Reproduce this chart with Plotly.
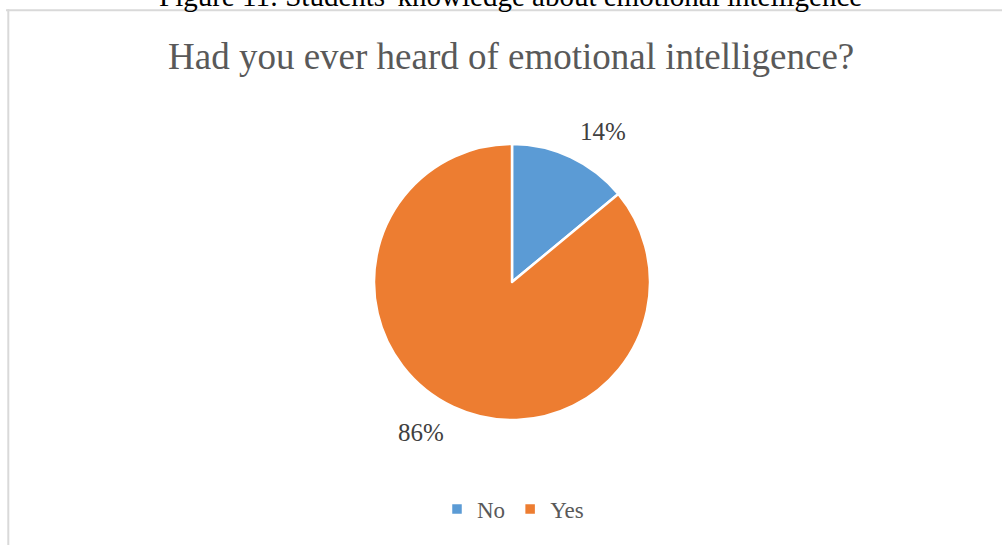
import math
import plotly.graph_objects as go

labels = ["No", "Yes"]
values = [14, 86]
colors = ["#5B9BD5", "#ED7D31"]

W, H = 1002, 545
serif = "Liberation Serif, Times New Roman, serif"

# pie geometry (pixels)
cx, cy, r = 512, 282, 138
label_r = 176
label_shift_deg = 6

fig = go.Figure(go.Pie(
    labels=labels,
    values=values,
    sort=False,
    direction="clockwise",
    rotation=0,
    marker=dict(colors=colors, line=dict(color="white", width=2.5)),
    textinfo="none",
    domain=dict(x=[(cx - r) / W, (cx + r) / W], y=[1 - (cy + r) / H, 1 - (cy - r) / H]),
    hoverinfo="label+percent",
))

# outside percentage labels derived from the data
total = sum(values)
annotations = []
cum = 0
for v in values:
    mid = (cum + v / 2) / total * 360 + label_shift_deg
    cum += v
    ang = math.radians(mid)
    px = cx + label_r * math.sin(ang)
    py = cy - label_r * math.cos(ang)
    annotations.append(dict(
        text=f"{round(v / total * 100)}%", xref="paper", yref="paper",
        x=px / W, y=1 - py / H, xanchor="center", yanchor="middle", showarrow=False,
        font=dict(family=serif, size=25, color="#404040"),
    ))

annotations += [
    dict(text="Had you ever heard of emotional intelligence?", xref="paper", yref="paper",
         x=511 / W, y=1 - 56 / H, xanchor="center", yanchor="middle", showarrow=False,
         font=dict(family=serif, size=37, color="#595959")),
    dict(text="Figure 11: Students' knowledge about emotional intelligence", xref="paper", yref="paper",
         x=510 / W, y=1 + 4.5 / H, xanchor="center", yanchor="middle", showarrow=False,
         font=dict(family=serif, size=29, color="black")),
]

fig.update_layout(
    width=W, height=H,
    margin=dict(l=0, r=0, t=0, b=0),
    paper_bgcolor="white",
    plot_bgcolor="white",
    showlegend=True,
    legend=dict(
        orientation="h", x=513 / W, xanchor="center", y=1 - 509 / H, yanchor="middle",
        font=dict(family=serif, size=23, color="#595959"),
        traceorder="normal",
    ),
    shapes=[
        dict(type="line", xref="paper", yref="paper", x0=6 / W, x1=1.01, y0=1 - 10.3 / H, y1=1 - 10.3 / H,
             line=dict(color="#D9D9D9", width=2)),
        dict(type="line", xref="paper", yref="paper", x0=8.3 / W, x1=8.3 / W, y0=-0.01, y1=1 - 9.3 / H,
             line=dict(color="#D9D9D9", width=2)),
    ],
    annotations=annotations,
)

fig.write_html("out.html", config={"displayModeBar": False},
               post_script="document.body.style.margin='0';")
